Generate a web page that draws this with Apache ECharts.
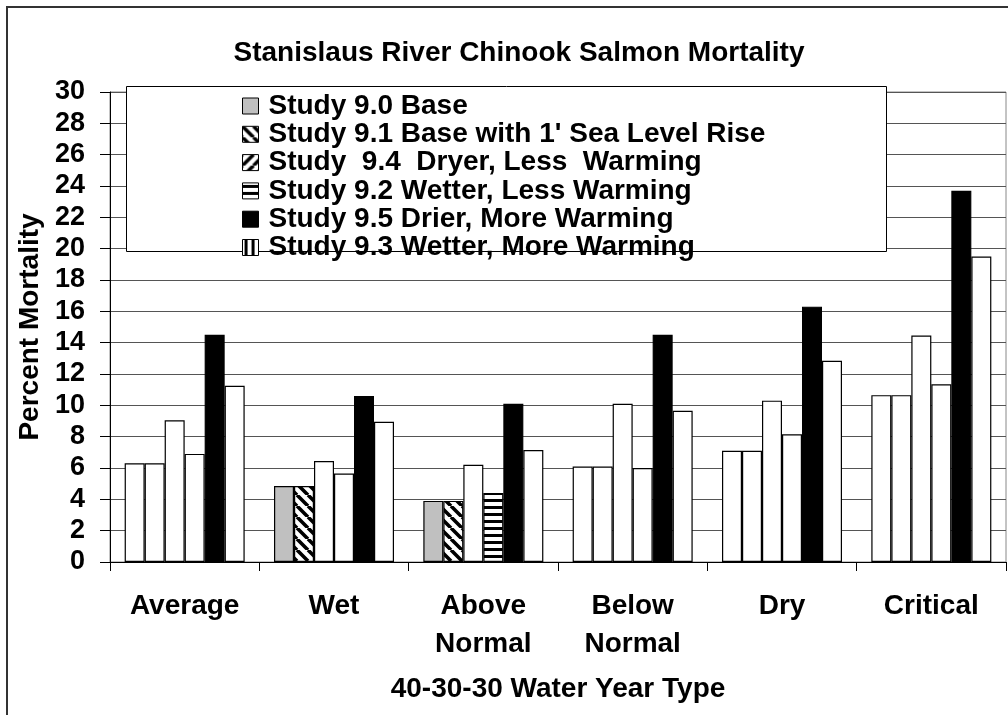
<!DOCTYPE html>
<html>
<head>
<meta charset="utf-8">
<script src="https://cdn.jsdelivr.net/npm/echarts@6/dist/echarts.min.js"></script>
<style>
html,body{margin:0;padding:0;background:#fff;}
#c{width:1008px;height:715px;}
</style>
</head>
<body>
<div id="c"></div>
<script>
// ---- data ----
const categories = ['Average', 'Wet', 'Above\nNormal', 'Below\nNormal', 'Dry', 'Critical'];
const seriesNames = [
  'Study 9.0 Base',
  "Study 9.1 Base with 1' Sea Level Rise",
  'Study  9.4  Dryer, Less  Warming',
  'Study 9.2 Wetter, Less Warming',
  'Study 9.5 Drier, More Warming',
  'Study 9.3 Wetter, More Warming'
];
const study90 = [6.3, 4.85, 3.9, 6.1, 7.1, 10.65];
const study91 = [6.3, 4.85, 3.9, 6.1, 7.1, 10.65];
const study94 = [9.05, 6.45, 6.2, 10.1, 10.3, 14.45];
const study92 = [6.9, 5.65, 4.4, 6.0, 8.15, 11.35];
const study95 = [14.5, 10.6, 10.1, 14.5, 16.3, 23.7];
const study93 = [11.25, 8.95, 7.15, 9.65, 12.85, 19.5];
const yTicks = [0, 30, 2];

// ---- styling (which bars show their fill, as in the source picture) ----
const filled = [
  [false, true, true, false, false, false],
  [false, true, true, false, false, false],
  [false, false, false, false, false, false],
  [false, false, true, false, false, false],
  [true, true, true, true, true, true],
  [false, false, false, false, false, false]
];

function makePattern(kind) {
  const c = document.createElement('canvas');
  const s = (kind === 'h' || kind === 'v') ? 7 : 11;
  c.width = s; c.height = s;
  const g = c.getContext('2d');
  g.fillStyle = '#fff';
  g.fillRect(0, 0, s, s);
  g.fillStyle = '#000';
  g.strokeStyle = '#000';
  if (kind === 'h') {
    g.fillRect(0, 2, s, 3);
  } else if (kind === 'v') {
    g.fillRect(2, 0, 3, s);
  } else {
    g.lineWidth = 3.6;
    g.beginPath();
    for (let k = -1; k <= 1; k++) {
      if (kind === 'bs') {
        g.moveTo(k * s, 0); g.lineTo(k * s + s, s);
      } else {
        g.moveTo(k * s, s); g.lineTo(k * s + s, 0);
      }
    }
    g.stroke();
  }
  return { image: c, repeat: 'repeat' };
}

const fills = [
  '#c0c0c0',
  makePattern('bs'),
  makePattern('fs'),
  makePattern('h'),
  '#000000',
  makePattern('v')
];
const values = [study90, study91, study94, study92, study95, study93];

const FONT = '"Liberation Sans", Arial, sans-serif';

const series = values.map((vals, si) => ({
  name: seriesNames[si],
  type: 'bar',
  barWidth: 20,
  barGap: '0%',
  itemStyle: { color: fills[si], borderColor: '#000', borderWidth: 1.2 },
  data: vals.map((v, ci) => ({
    value: v,
    itemStyle: { color: filled[si][ci] ? fills[si] : '#ffffff' }
  }))
}));

const chart = echarts.init(document.getElementById('c'), null, { renderer: 'canvas' });
chart.setOption({
  animation: false,
  backgroundColor: '#fff',
  title: {
    text: 'Stanislaus River Chinook Salmon Mortality',
    left: 514,
    textAlign: 'center',
    top: 34,
    textStyle: { fontFamily: FONT, fontWeight: 'bold', fontSize: 28, color: '#000' }
  },
  grid: {
    left: 110, right: 2, top: 92, bottom: 153,
    show: true, borderColor: '#888', borderWidth: 1, backgroundColor: 'transparent'
  },
  legend: {
    orient: 'vertical',
    left: 242,
    top: 92,
    padding: 0,
    itemGap: 0.3,
    itemWidth: 16,
    itemHeight: 16,
    icon: 'rect',
    itemStyle: { borderColor: '#000', borderWidth: 1 },
    textStyle: { fontFamily: FONT, fontWeight: 'bold', fontSize: 28, color: '#000', lineHeight: 27, padding: [0, 0, 0, 5] },
    data: seriesNames,
    z: 5
  },
  xAxis: {
    type: 'category',
    data: categories,
    axisLine: { show: true, lineStyle: { color: '#000', width: 1 } },
    axisTick: { show: true, length: 9, lineStyle: { color: '#000' } },
    axisLabel: {
      margin: 25, interval: 0,
      fontFamily: FONT, fontWeight: 'bold', fontSize: 28, color: '#000', lineHeight: 38
    },
    splitLine: { show: false },
    name: '40-30-30 Water Year Type',
    nameLocation: 'middle',
    nameGap: 113,
    nameTextStyle: { fontFamily: FONT, fontWeight: 'bold', fontSize: 28, color: '#000' }
  },
  yAxis: {
    type: 'value',
    min: yTicks[0], max: yTicks[1], interval: yTicks[2],
    axisLine: { show: true, lineStyle: { color: '#000', width: 1 } },
    axisTick: { show: true, inside: false, length: 10, lineStyle: { color: '#000' } },
    axisLabel: { margin: 25, fontFamily: FONT, fontWeight: 'bold', fontSize: 27, color: '#000' },
    splitLine: { show: true, lineStyle: { color: '#555', width: 1 } },
    name: 'Percent Mortality',
    nameLocation: 'middle',
    nameRotate: 90,
    nameGap: 64,
    nameTextStyle: { fontFamily: FONT, fontWeight: 'bold', fontSize: 28, color: '#000' }
  },
  graphic: [
    {
      type: 'rect', z: 3, silent: true,
      shape: { x: 126.5, y: 86.5, width: 760, height: 165 },
      style: { fill: '#fff', stroke: '#000', lineWidth: 1 }
    },
    {
      type: 'rect', z: 10, silent: true,
      shape: { x: 7, y: 7, width: 1030, height: 740 },
      style: { fill: 'none', stroke: '#333', lineWidth: 2 }
    }
  ],
  series: series
});
</script>
</body>
</html>
